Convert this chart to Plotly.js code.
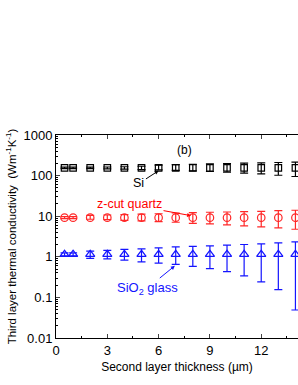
<!DOCTYPE html>
<html><head><meta charset="utf-8">
<script src="https://cdn.plot.ly/plotly-3.0.1.min.js"></script>
<style>body{margin:0;padding:0;background:#fff}#g{width:298px;height:385px}</style>
</head><body><div id="g"></div>
<script>
// Data
const thickness = [0.5, 1, 2, 3, 4, 5, 6, 7, 8, 9, 10, 11, 12, 13, 14];

const siK      = [155, 155, 155, 155, 155, 155, 155, 155, 155, 155, 155, 155, 155, 155, 155];
const siUpper  = [161, 161, 162, 163, 165, 170, 182, 186, 190, 194, 198, 202, 206, 210, 214];
const siLower  = [149, 149, 148, 147, 145, 141, 139, 134, 131, 126, 121, 115, 110, 102, 95];

const qzK      = [9.2, 9.2, 9.2, 9.2, 9.2, 9.2, 9.2, 9.2, 9.2, 9.2, 9.2, 9.2, 9.2, 9.2, 9.2];
const qzUpper  = [9.8, 9.8, 10.5, 10.7, 10.9, 11.3, 11.5, 12.0, 12.2, 12.5, 12.7, 13.0, 13.2, 13.7, 14.0];
const qzLower  = [8.7, 8.7, 8.4, 8.24, 7.93, 7.64, 7.36, 7.09, 6.69, 6.45, 6.1, 5.76, 5.45, 5.15, 4.77];

const glK      = [1.15, 1.15, 1.15, 1.15, 1.15, 1.15, 1.15, 1.15, 1.15, 1.15, 1.15, 1.15, 1.15, 1.15, 1.15];
const glUpper  = [1.25, 1.25, 1.38, 1.435, 1.52, 1.57, 1.66, 1.76, 1.80, 1.86, 1.93, 2.01, 2.08, 2.20, 2.33];
const glLower  = [1.05, 1.05, 0.914, 0.893, 0.83, 0.754, 0.70, 0.65, 0.58, 0.51, 0.43, 0.34, 0.24, 0.155, 0.049];

const yTickVals = [0.01, 0.1, 1, 10, 100, 1000];
const yTickText = ["0.01", "0.1", "1", "10", "100", "1000"];
const xTickVals = [0, 3, 6, 9, 12];

function errs(k, up, lo){
  return {plus: up.map((u,i)=>u-k[i]), minus: lo.map((l,i)=>k[i]-l)};
}
function trace(k, up, lo, symbol, color, size){
  const e = errs(k, up, lo);
  return {
    x: thickness, y: k, type: 'scatter', mode: 'markers',
    marker: {symbol: symbol, size: size, color: color, line: {color: color, width: 1.2}},
    error_y: {type: 'data', symmetric: false, array: e.plus, arrayminus: e.minus,
              color: color, thickness: 1.2, width: 4},
    showlegend: false, cliponaxis: true
  };
}
const RED = '#ff2828', BLUE = '#1414ff';
const data = [
  trace(siK, siUpper, siLower, 'square-open', '#000000', 6.5),
  trace(qzK, qzUpper, qzLower, 'circle-open', RED, 7.5),
  trace(glK, glUpper, glLower, 'triangle-up-open', BLUE, 8)
];

const F = 'Liberation Sans, Arial, sans-serif';
const layout = {
  width: 298, height: 385,
  margin: {l: 56, r: 0, t: 135, b: 47},
  paper_bgcolor: '#fff', plot_bgcolor: '#fff',
  font: {family: F, color: '#000', size: 13},
  xaxis: {
    range: [0, 14.15], tickvals: xTickVals, ticks: 'inside', ticklen: 4, tickwidth: 1,
    showline: true, linecolor: '#000', linewidth: 1, mirror: 'allticks',
    showgrid: false, zeroline: false,
    minor: {ticks: 'inside', ticklen: 2, dtick: 1.5, tickcolor: '#000', showgrid: false},
    tickfont: {size: 13, family: F},
    title: {text: 'Second layer thickness (µm)', font: {size: 12, family: F}, standoff: 6}
  },
  yaxis: {
    type: 'log', range: [-2, 3], tickvals: yTickVals, ticktext: yTickText,
    ticks: 'inside', ticklen: 4, tickwidth: 1,
    showline: true, linecolor: '#000', linewidth: 1, mirror: false,
    showgrid: false, zeroline: false,
    minor: {ticks: 'inside', ticklen: 2, dtick: 'D1', tickcolor: '#000', showgrid: false},
    tickfont: {size: 13, family: F},
    title: {text: 'Third layer thermal conductivity  (Wm<sup>-1</sup>K<sup>-1</sup>)', font: {size: 11.5, family: F}, standoff: 4}
  },
  annotations: [
    {x: 7.5, y: Math.log10(430), xref: 'x', yref: 'y', text: '(b)', showarrow: false, font: {size: 12, family: F, color: '#000'}},
    {x: 6, y: Math.log10(132), ax: 4.85, ay: Math.log10(64), axref: 'x', ayref: 'y', xref: 'x', yref: 'y',
     text: 'Si', font: {size: 12.5, family: F, color: '#000'},
     showarrow: true, arrowhead: 2, arrowsize: 0.8, arrowwidth: 1, arrowcolor: '#000', standoff: 0},
    {x: 7.9, y: Math.log10(10.3), ax: 4.3, ay: Math.log10(19.5), axref: 'x', ayref: 'y', xref: 'x', yref: 'y',
     text: 'z-cut quartz', font: {size: 12.5, family: F, color: '#ff0000'},
     showarrow: true, arrowhead: 2, arrowsize: 0.8, arrowwidth: 1, arrowcolor: '#ff0000', standoff: 0},
    {x: 6.95, y: Math.log10(0.6), ax: 5.35, ay: Math.log10(0.17), axref: 'x', ayref: 'y', xref: 'x', yref: 'y',
     text: 'SiO<sub>2</sub> glass', font: {size: 13, family: F, color: '#1414ff'},
     showarrow: true, arrowhead: 2, arrowsize: 0.8, arrowwidth: 1, arrowcolor: '#1414ff', standoff: 0}
  ]
};
Plotly.newPlot('g', data, layout, {staticPlot: true, displayModeBar: false});
</script>
</body></html>
